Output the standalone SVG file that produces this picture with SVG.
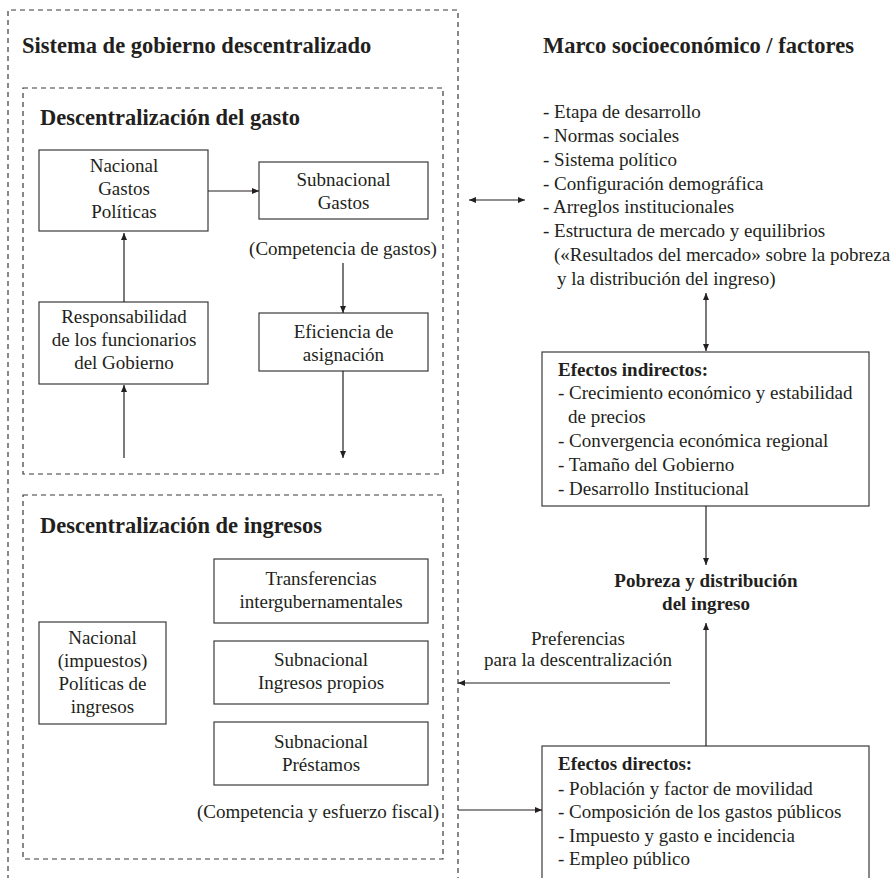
<svg xmlns="http://www.w3.org/2000/svg" width="892" height="878" viewBox="0 0 892 878">
  <defs>
    <style>
      .t { font-family: "Liberation Serif", "Times New Roman", serif; font-size: 19px; fill: #231f20; }
      .b { font-weight: bold; }
      .h { font-family: "Liberation Serif", "Times New Roman", serif; font-size: 22.5px; font-weight: bold; fill: #231f20; }
      .c { text-anchor: middle; }
      .box { fill: #ffffff; stroke: #3a3a3a; stroke-width: 1.2; }
      .dash { fill: none; stroke: #3a3a3a; stroke-width: 1.2; stroke-dasharray: 5 4; }
      .ln { fill: none; stroke: #231f20; stroke-width: 1.2; }
    </style>
    <marker id="ah" markerUnits="userSpaceOnUse" markerWidth="8" markerHeight="8" refX="7" refY="3" orient="auto-start-reverse">
      <path d="M0,0 L7,3 L0,6 z" fill="#231f20"/>
    </marker>
  </defs>
  <rect width="892" height="878" fill="#ffffff"/>

  <!-- Decentralised government system frame -->
  <g id="sistema">
    <path class="dash" d="M8,880 L8,10 L458,10 L458,880"/>
    <text class="h" x="22" y="53">Sistema de gobierno descentralizado</text>
  </g>

  <!-- Expenditure decentralisation -->
  <g id="gasto">
    <rect class="dash" x="23" y="88" width="420" height="386"/>
    <text class="h" x="40" y="125">Descentralización del gasto</text>
  </g>

  <g id="nacional-gastos">
    <rect class="box" x="39" y="150" width="169" height="81"/>
    <text class="t c" x="124" y="172">Nacional</text>
    <text class="t c" x="124" y="195">Gastos</text>
    <text class="t c" x="124" y="218">Políticas</text>
  </g>

  <g id="subnacional-gastos">
    <rect class="box" x="259" y="162" width="169" height="57"/>
    <text class="t c" x="343.5" y="186">Subnacional</text>
    <text class="t c" x="343.5" y="209">Gastos</text>
  </g>

  <g id="competencia-gastos">
    <text class="t c" x="343" y="255">(Competencia de gastos)</text>
  </g>

  <g id="eficiencia">
    <rect class="box" x="259" y="313" width="169" height="58"/>
    <text class="t c" x="343.5" y="338">Eficiencia de</text>
    <text class="t c" x="343.5" y="361">asignación</text>
  </g>

  <g id="responsabilidad">
    <rect class="box" x="39" y="302" width="169" height="82"/>
    <text class="t c" x="124" y="323">Responsabilidad</text>
    <text class="t c" x="124" y="346">de los funcionarios</text>
    <text class="t c" x="124" y="369">del Gobierno</text>
  </g>

  <!-- Revenue decentralisation -->
  <g id="ingresos">
    <rect class="dash" x="23" y="495" width="420" height="364"/>
    <text class="h" x="40" y="533">Descentralización de ingresos</text>
  </g>

  <g id="nacional-impuestos">
    <rect class="box" x="39" y="622" width="127" height="102"/>
    <text class="t c" x="102.5" y="644">Nacional</text>
    <text class="t c" x="102.5" y="667">(impuestos)</text>
    <text class="t c" x="102.5" y="690">Políticas de</text>
    <text class="t c" x="102.5" y="713">ingresos</text>
  </g>

  <g id="transferencias">
    <rect class="box" x="214" y="559" width="214" height="64"/>
    <text class="t c" x="321" y="585">Transferencias</text>
    <text class="t c" x="321" y="608">intergubernamentales</text>
  </g>

  <g id="ingresos-propios">
    <rect class="box" x="214" y="641" width="214" height="63"/>
    <text class="t c" x="321" y="666">Subnacional</text>
    <text class="t c" x="321" y="689">Ingresos propios</text>
  </g>

  <g id="prestamos">
    <rect class="box" x="214" y="722" width="214" height="63"/>
    <text class="t c" x="321" y="748">Subnacional</text>
    <text class="t c" x="321" y="771">Préstamos</text>
  </g>

  <g id="competencia-fiscal">
    <text class="t c" x="318" y="818">(Competencia y esfuerzo fiscal)</text>
  </g>

  <!-- Socio-economic framework -->
  <g id="marco">
    <text class="h" x="543" y="53">Marco socioeconómico / factores</text>
    <text class="t" x="543" y="118">- Etapa de desarrollo</text>
    <text class="t" x="543" y="142">- Normas sociales</text>
    <text class="t" x="543" y="166">- Sistema político</text>
    <text class="t" x="543" y="190">- Configuración demográfica</text>
    <text class="t" x="543" y="213">- Arreglos institucionales</text>
    <text class="t" x="543" y="237">- Estructura de mercado y equilibrios</text>
    <text class="t" x="554" y="261">(«Resultados del mercado» sobre la pobreza</text>
    <text class="t" x="557" y="285">y la distribución del ingreso)</text>
  </g>

  <g id="efectos-indirectos">
    <rect class="box" x="542" y="352" width="327" height="154"/>
    <text class="t b" x="558" y="376">Efectos indirectos:</text>
    <text class="t" x="558" y="399">- Crecimiento económico y estabilidad</text>
    <text class="t" x="568" y="423">de precios</text>
    <text class="t" x="558" y="447">- Convergencia económica regional</text>
    <text class="t" x="558" y="471">- Tamaño del Gobierno</text>
    <text class="t" x="558" y="495">- Desarrollo Institucional</text>
  </g>

  <g id="pobreza">
    <text class="t b c" x="706" y="587">Pobreza y distribución</text>
    <text class="t b c" x="706" y="610">del ingreso</text>
  </g>

  <g id="preferencias">
    <text class="t c" x="578" y="645">Preferencias</text>
    <text class="t c" x="578" y="666">para la descentralización</text>
  </g>

  <g id="efectos-directos">
    <rect class="box" x="542" y="746" width="327" height="140"/>
    <text class="t b" x="558" y="770">Efectos directos:</text>
    <text class="t" x="558" y="795">- Población y factor de movilidad</text>
    <text class="t" x="558" y="818">- Composición de los gastos públicos</text>
    <text class="t" x="558" y="842">- Impuesto y gasto e incidencia</text>
    <text class="t" x="558" y="865">- Empleo público</text>
  </g>

  <!-- Connectors -->
  <g id="connectors">
    <line class="ln" x1="208" y1="191" x2="259" y2="191" marker-end="url(#ah)"/>
    <line class="ln" x1="124" y1="302" x2="124" y2="233" marker-end="url(#ah)"/>
    <line class="ln" x1="124" y1="458" x2="124" y2="385" marker-end="url(#ah)"/>
    <line class="ln" x1="343" y1="263" x2="343" y2="313" marker-end="url(#ah)"/>
    <line class="ln" x1="343" y1="371" x2="343" y2="458" marker-end="url(#ah)"/>
    <line class="ln" x1="469" y1="200" x2="525" y2="200" marker-start="url(#ah)" marker-end="url(#ah)"/>
    <line class="ln" x1="706" y1="293" x2="706" y2="351" marker-start="url(#ah)" marker-end="url(#ah)"/>
    <line class="ln" x1="706" y1="506" x2="706" y2="565" marker-end="url(#ah)"/>
    <line class="ln" x1="706" y1="746" x2="706" y2="623" marker-end="url(#ah)"/>
    <line class="ln" x1="670" y1="683" x2="458" y2="683" marker-end="url(#ah)"/>
    <line class="ln" x1="458" y1="810" x2="542" y2="810" marker-end="url(#ah)"/>
  </g>
</svg>
